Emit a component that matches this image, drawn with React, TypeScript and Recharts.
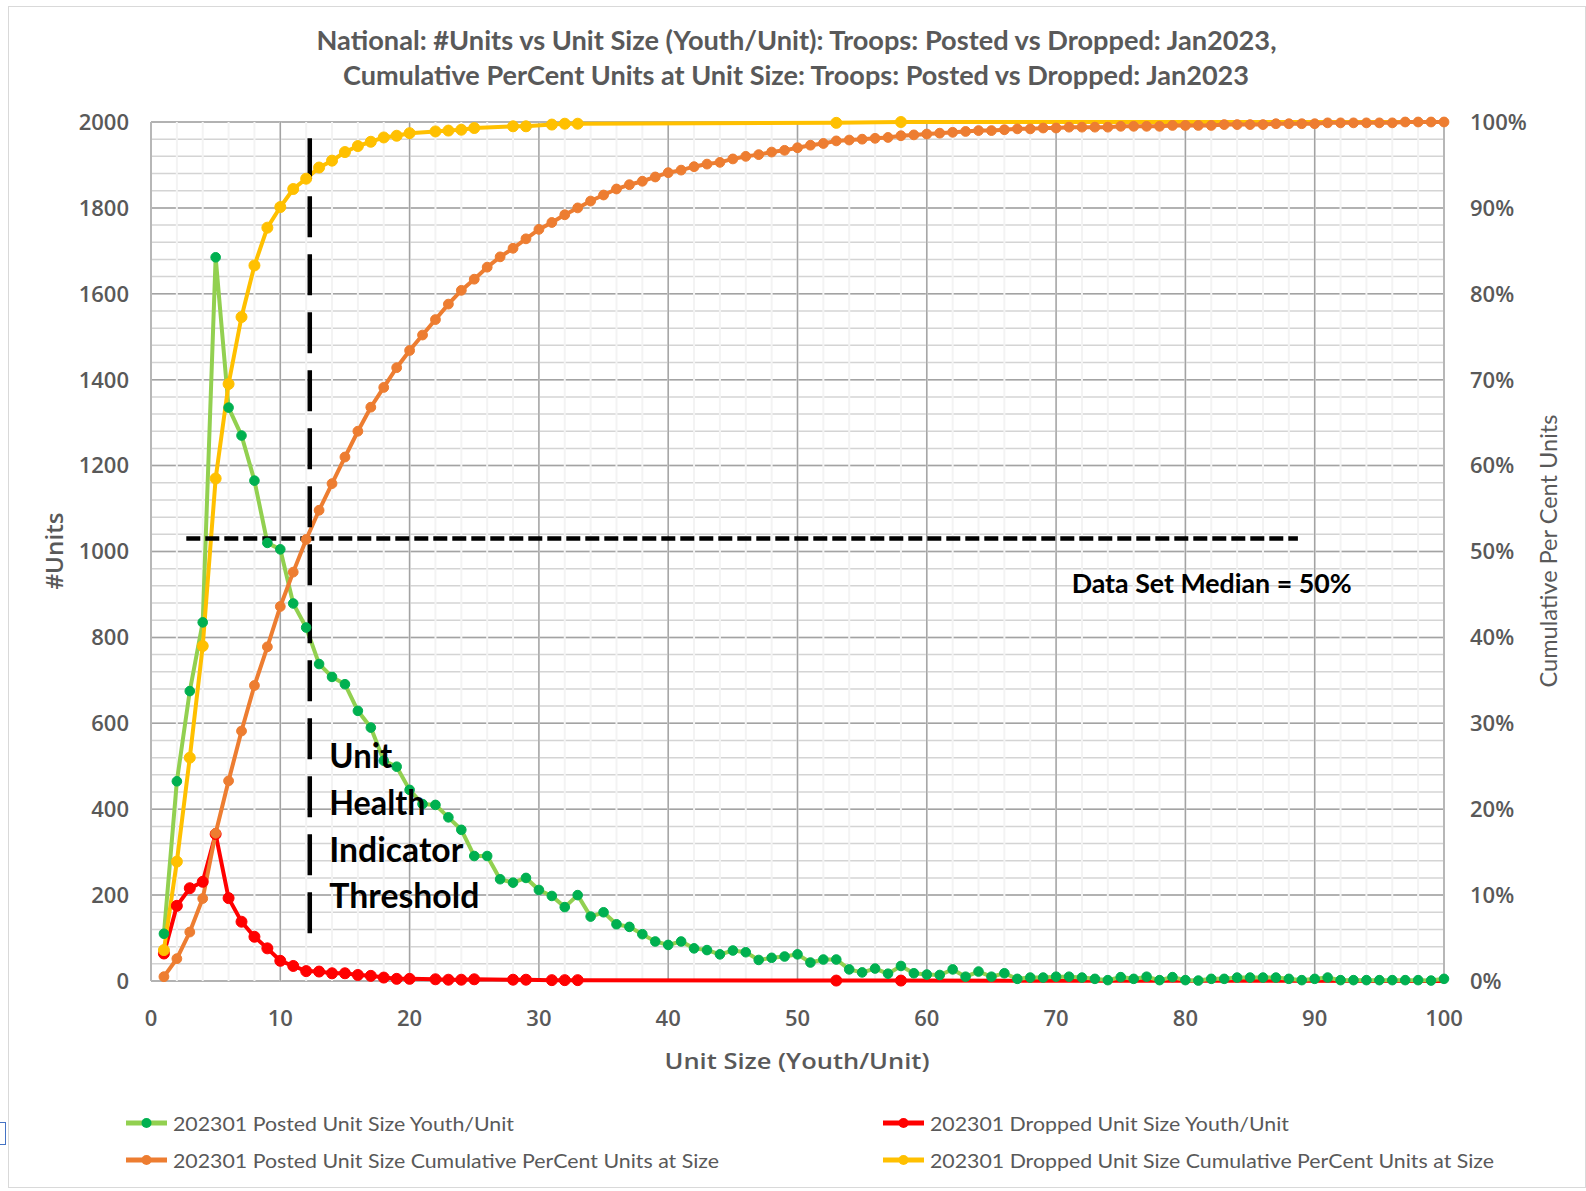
import React from 'react';
import { LineChart, Line, XAxis, YAxis, CartesianGrid, ReferenceLine, Legend } from 'recharts';

// ---------- data ----------
const unitSizes = [
  1, 2, 3, 4, 5, 6, 7, 8, 9, 10, 11, 12, 13, 14, 15, 16, 17, 18, 19, 20,
  21, 22, 23, 24, 25, 26, 27, 28, 29, 30, 31, 32, 33, 34, 35, 36, 37, 38, 39, 40,
  41, 42, 43, 44, 45, 46, 47, 48, 49, 50, 51, 52, 53, 54, 55, 56, 57, 58, 59, 60,
  61, 62, 63, 64, 65, 66, 67, 68, 69, 70, 71, 72, 73, 74, 75, 76, 77, 78, 79, 80,
  81, 82, 83, 84, 85, 86, 87, 88, 89, 90, 91, 92, 93, 94, 95, 96, 97, 98, 99, 100,
];

const postedUnits = [
  110, 465, 675, 835, 1685, 1335, 1270, 1165, 1020, 1005,
  879, 823, 738, 708, 691, 629, 590, 513, 499, 445,
  412, 410, 381, 352, 291, 291, 237, 229, 240, 212,
  198, 172, 200, 150, 160, 132, 126, 109, 92, 84,
  92, 76, 72, 62, 71, 67, 49, 54, 57, 62,
  43, 50, 50, 27, 20, 29, 17, 35, 18, 15,
  14, 27, 10, 22, 10, 18, 5, 8, 8, 10,
  10, 8, 5, 2, 9, 5, 10, 2, 9, 2,
  1, 5, 5, 8, 8, 8, 8, 5, 2, 5,
  8, 2, 2, 2, 2, 2, 2, 2, 1, 5,
];

const postedCumPct = [
  0.5, 2.6, 5.7, 9.6, 17.2, 23.3, 29.1, 34.4, 38.9, 43.6,
  47.6, 51.4, 54.8, 57.9, 61.0, 64.0, 66.8, 69.1, 71.4, 73.4,
  75.2, 77.0, 78.8, 80.4, 81.7, 83.1, 84.3, 85.3, 86.4, 87.5,
  88.3, 89.2, 90.0, 90.8, 91.5, 92.2, 92.7, 93.1, 93.6, 94.1,
  94.4, 94.8, 95.1, 95.3, 95.7, 96.0, 96.2, 96.5, 96.7, 97.0,
  97.3, 97.5, 97.8, 97.9, 98.0, 98.1, 98.2, 98.4, 98.5, 98.6,
  98.7, 98.8, 98.9, 99.0, 99.0, 99.1, 99.2, 99.2, 99.3, 99.3,
  99.4, 99.4, 99.4, 99.4, 99.5, 99.5, 99.5, 99.5, 99.6, 99.6,
  99.6, 99.6, 99.7, 99.7, 99.7, 99.7, 99.8, 99.8, 99.8, 99.8,
  99.9, 99.9, 99.9, 99.9, 99.9, 99.9, 100, 100, 100, 100,
];

const droppedSizes = [
  1, 2, 3, 4, 5, 6, 7, 8, 9, 10, 11, 12, 13, 14, 15, 16, 17, 18, 19, 20,
  22, 23, 24, 25, 28, 29, 31, 32, 33, 53, 58, 100,
];

const droppedUnits = [
  64, 175, 216, 231, 342, 193, 138, 103, 76, 47, 35, 23, 22, 18, 18, 14, 12, 8, 5, 5,
  4, 3, 3, 4, 3, 3, 2, 2, 2, 1, 1, 0,
];

const droppedCumPct = [
  3.6, 13.9, 26.0, 39.0, 58.5, 69.5, 77.3, 83.3, 87.7, 90.1,
  92.2, 93.4, 94.7, 95.5, 96.5, 97.2, 97.7, 98.2, 98.4, 98.7,
  98.9, 99.0, 99.1, 99.3, 99.5, 99.5, 99.7, 99.8, 99.8, 99.9, 100, 100,
];

// the dropped series' line runs to size 100, but that end point carries no marker
const droppedUnmarkedSizes = [100];

const leftTicks = [0, 200, 400, 600, 800, 1000, 1200, 1400, 1600, 1800, 2000];
const rightTicks = [0, 10, 20, 30, 40, 50, 60, 70, 80, 90, 100];
const xTicks = [0, 10, 20, 30, 40, 50, 60, 70, 80, 90, 100];

const thresholdSize = 12.28;
const thresholdSpan = [1962, 95];
const medianUnits = 1030;
const medianSpan = [2.73, 88.7];

const titleLines = [
  'National: #Units vs Unit Size (Youth/Unit): Troops: Posted vs Dropped: Jan2023,',
  'Cumulative PerCent Units at Unit Size: Troops: Posted vs Dropped: Jan2023',
];
const thresholdWords = ['Unit', 'Health', 'Indicator', 'Threshold'];
const medianText = 'Data Set Median = 50%';

// ---------- derived table ----------
const rows = unitSizes.map((s, i) => {
  const j = droppedSizes.indexOf(s);
  return {
    size: s,
    posted: postedUnits[i],
    postedCum: postedCumPct[i],
    dropped: j >= 0 ? droppedUnits[j] : null,
    droppedCum: j >= 0 ? droppedCumPct[j] : null,
  };
});

const minorY: number[] = [];
for (let v = 0; v <= 2000; v += 40) minorY.push(v);
const minorX: number[] = [];
for (let v = 0; v <= 100; v += 2) minorX.push(v);

const series = [
  { key: 'dropped', name: '202301 Dropped Unit Size Youth/Unit', axis: 'left', line: '#FF0000', dot: '#FF0000', r: 5.5, skip: droppedUnmarkedSizes },
  { key: 'posted', name: '202301 Posted Unit Size Youth/Unit', axis: 'left', line: '#92D050', dot: '#00B050', r: 4.8, skip: [] as number[] },
  { key: 'droppedCum', name: '202301 Dropped Unit Size Cumulative PerCent Units at Size', axis: 'right', line: '#FFC000', dot: '#FFC000', r: 5.5, skip: droppedUnmarkedSizes },
  { key: 'postedCum', name: '202301 Posted Unit Size Cumulative PerCent Units at Size', axis: 'right', line: '#ED7D31', dot: '#ED7D31', r: 4.9, skip: [] as number[] },
];

const legendSlots: Record<string, { x: number; y: number; w: number }> = {
  posted: { x: 117, y: 21, w: 341 },
  dropped: { x: 874, y: 21, w: 359 },
  postedCum: { x: 117, y: 58, w: 546 },
  droppedCum: { x: 874, y: 58, w: 564 },
};

const GREY = '#595959';
const tickStyle = { fill: GREY, fontSize: 22, fontWeight: 600, fontFamily: "'Open Sans', sans-serif" };
const CAL = "Lato, 'Open Sans', sans-serif";

const makeDot = (color: string, r: number, skip: number[]) => (props: any) => {
  const { cx, cy, index, payload } = props;
  const k = `dot-${color}-${index}`;
  if (cx == null || cy == null || !payload || skip.indexOf(payload.size) >= 0) return <g key={k} />;
  return <circle key={k} cx={cx} cy={cy} r={r} fill={color} stroke={color} strokeWidth={1} />;
};

const renderLegend = () => (
  <svg width={1560} height={80} style={{ display: 'block' }}>
    {series.map((s) => {
      const p = legendSlots[s.key];
      return (
        <g key={s.key}>
          <line x1={p.x} y1={p.y} x2={p.x + 41} y2={p.y} stroke={s.line} strokeWidth={5} />
          <circle cx={p.x + 20.5} cy={p.y} r={5} fill={s.dot} />
          <text
            x={p.x + 47}
            y={p.y + 8}
            fontSize={20}
            fontFamily={CAL}
            fill={GREY}
            textLength={p.w}
            lengthAdjust="spacingAndGlyphs"
          >
            {s.name}
          </text>
        </g>
      );
    })}
  </svg>
);

export default function App() {
  return (
    <div>
      <div
        style={{
          position: 'absolute',
          left: 0,
          top: 1122,
          width: 5,
          height: 21,
          borderTop: '1px solid #4472C4',
          borderRight: '1px solid #4472C4',
          borderBottom: '1px solid #4472C4',
        }}
      />
      <div
        style={{
          position: 'absolute',
          left: 8,
          top: 6,
          width: 1578,
          height: 1182,
          boxSizing: 'border-box',
          border: '1px solid #d9d9d9',
          background: '#fff',
        }}
      >
        <div style={{ position: 'absolute', left: 0, top: 0 }}>
          <LineChart
            width={1560}
            height={1170}
            data={rows}
            margin={{ top: 115, right: 25, bottom: 156, left: 42 }}
          >
            <CartesianGrid yAxisId="left" vertical={false} horizontalValues={minorY} stroke="#d4d4d4" strokeWidth={1.5} />
            <CartesianGrid yAxisId="left" vertical={false} horizontalValues={leftTicks} stroke="#a3a3a3" strokeWidth={1.5} />
            <CartesianGrid yAxisId="left" horizontal={false} verticalValues={minorX} stroke="#f3f3f3" strokeWidth={2} />
            <CartesianGrid yAxisId="left" horizontal={false} verticalValues={xTicks} stroke="#a3a3a3" strokeWidth={1.5} />
            <XAxis
              dataKey="size"
              type="number"
              domain={[0, 100]}
              ticks={xTicks}
              interval={0}
              axisLine={false}
              tickLine={false}
              tickSize={0}
              tickMargin={29}
              height={40}
              tick={tickStyle}
            />
            <YAxis
              yAxisId="left"
              domain={[0, 2000]}
              ticks={leftTicks}
              interval={0}
              axisLine={false}
              tickLine={false}
              tickSize={0}
              tickMargin={22}
              width={100}
              tick={tickStyle}
            />
            <YAxis
              yAxisId="right"
              orientation="right"
              domain={[0, 100]}
              ticks={rightTicks}
              interval={0}
              axisLine={false}
              tickLine={false}
              tickSize={0}
              tickMargin={26}
              width={100}
              tick={tickStyle}
              tickFormatter={(v: number) => `${v}%`}
            />
            {series.map((s) => (
              <Line
                key={s.key}
                yAxisId={s.axis}
                dataKey={s.key}
                name={s.name}
                type="linear"
                stroke={s.line}
                strokeWidth={4}
                dot={makeDot(s.dot, s.r, s.skip)}
                activeDot={false}
                connectNulls
                isAnimationActive={false}
              />
            ))}
            <ReferenceLine
              yAxisId="left"
              segment={[
                { x: thresholdSize, y: thresholdSpan[0] },
                { x: thresholdSize, y: thresholdSpan[1] },
              ]}
              stroke="#000"
              strokeWidth={4.5}
              strokeDasharray="41 17"
            />
            <ReferenceLine
              yAxisId="left"
              segment={[
                { x: medianSpan[0], y: medianUnits },
                { x: medianSpan[1], y: medianUnits },
              ]}
              stroke="#000"
              strokeWidth={4.5}
              strokeDasharray="14 5"
            />
            <Legend
              layout="horizontal"
              verticalAlign="middle"
              align="center"
              wrapperStyle={{ left: 0, top: 1095, width: 1560, height: 80 }}
              content={renderLegend}
            />
          </LineChart>
        </div>
        <svg
          width={1576}
          height={1180}
          style={{ position: 'absolute', left: 0, top: 0, pointerEvents: 'none' }}
        >
          <text x={787.5} y={43} textAnchor="middle" fontSize={27} fontWeight={700} fontFamily={CAL} fill={GREY} textLength={960} lengthAdjust="spacingAndGlyphs">
            {titleLines[0]}
          </text>
          <text x={787} y={78} textAnchor="middle" fontSize={27} fontWeight={700} fontFamily={CAL} fill={GREY} textLength={906} lengthAdjust="spacingAndGlyphs">
            {titleLines[1]}
          </text>
          <text
            x={44.6}
            y={544}
            textAnchor="middle"
            dominantBaseline="central"
            transform="rotate(-90, 44.6, 544)"
            fontSize={23}
            fontWeight={600}
            fontFamily="'Open Sans', sans-serif"
            fill={GREY}
            textLength={77}
            lengthAdjust="spacingAndGlyphs"
          >
            #Units
          </text>
          <text
            x={788}
            y={1053}
            textAnchor="middle"
            dominantBaseline="central"
            fontSize={22}
            fontWeight={600}
            fontFamily="'Open Sans', sans-serif"
            fill={GREY}
            textLength={265}
            lengthAdjust="spacingAndGlyphs"
          >
            Unit Size (Youth/Unit)
          </text>
          <text
            x={1538.6}
            y={544}
            textAnchor="middle"
            dominantBaseline="central"
            transform="rotate(-90, 1538.6, 544)"
            fontSize={23}
            fontFamily={CAL}
            fill={GREY}
            textLength={273}
            lengthAdjust="spacingAndGlyphs"
          >
            Cumulative Per Cent Units
          </text>
          {thresholdWords.map((w, i) => (
            <text
              key={w}
              x={320.3}
              y={761.3 + i * 46.6}
              fontSize={34}
              fontWeight={700}
              fontFamily={CAL}
              fill="#000"
              textLength={[63, 96, 134, 150][i]}
              lengthAdjust="spacingAndGlyphs"
            >
              {w}
            </text>
          ))}
          <text
            x={1062.7}
            y={586.3}
            fontSize={27}
            fontWeight={700}
            fontFamily={CAL}
            fill="#000"
            textLength={280}
            lengthAdjust="spacingAndGlyphs"
          >
            {medianText}
          </text>
        </svg>
      </div>
    </div>
  );
}
